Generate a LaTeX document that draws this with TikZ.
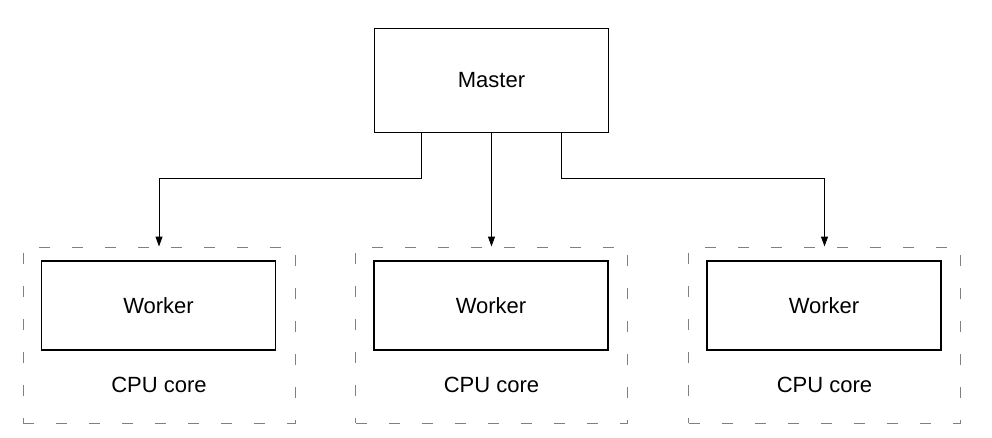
\documentclass[tikz,border=0pt]{standalone}
\usepackage{fontspec}
\setmainfont{Liberation Sans}
\usetikzlibrary{arrows.meta}

\begin{document}
\begin{tikzpicture}[x=1pt,y=-1pt,
    box/.style={draw,line width=1.3pt,minimum width=234pt,minimum height=89pt,inner sep=0pt},
    core/.style={draw=gray,dash pattern=on 11pt off 22pt,line width=1pt,minimum width=272pt,minimum height=176pt,inner sep=0pt},
    link/.style={-{Triangle[length=10pt,width=7pt]},line width=1pt},
    font=\fontsize{22}{26}\selectfont]
    \useasboundingbox (0,0) rectangle (992,437);
    \node[box,minimum height=104pt] (master) at (491.5,80.5) {Master};
    \foreach \i/\x in {1/159,2/491.5,3/824.5} {
      \node[core] (core\i) at (\x,335) {};
      \node[box] (work\i) at (\x-0.5,305.5) {Worker};
      \node (lab\i) at (\x,385) {CPU core};
    }
    \draw[link] ([xshift=-70pt]master.south) -- ++(0,45) -| (core1.north);
    \draw[link] (master.south) -- (core2.north);
    \draw[link] ([xshift=70pt]master.south) -- ++(0,45) -| (core3.north);
  \end{tikzpicture}
\end{document}
